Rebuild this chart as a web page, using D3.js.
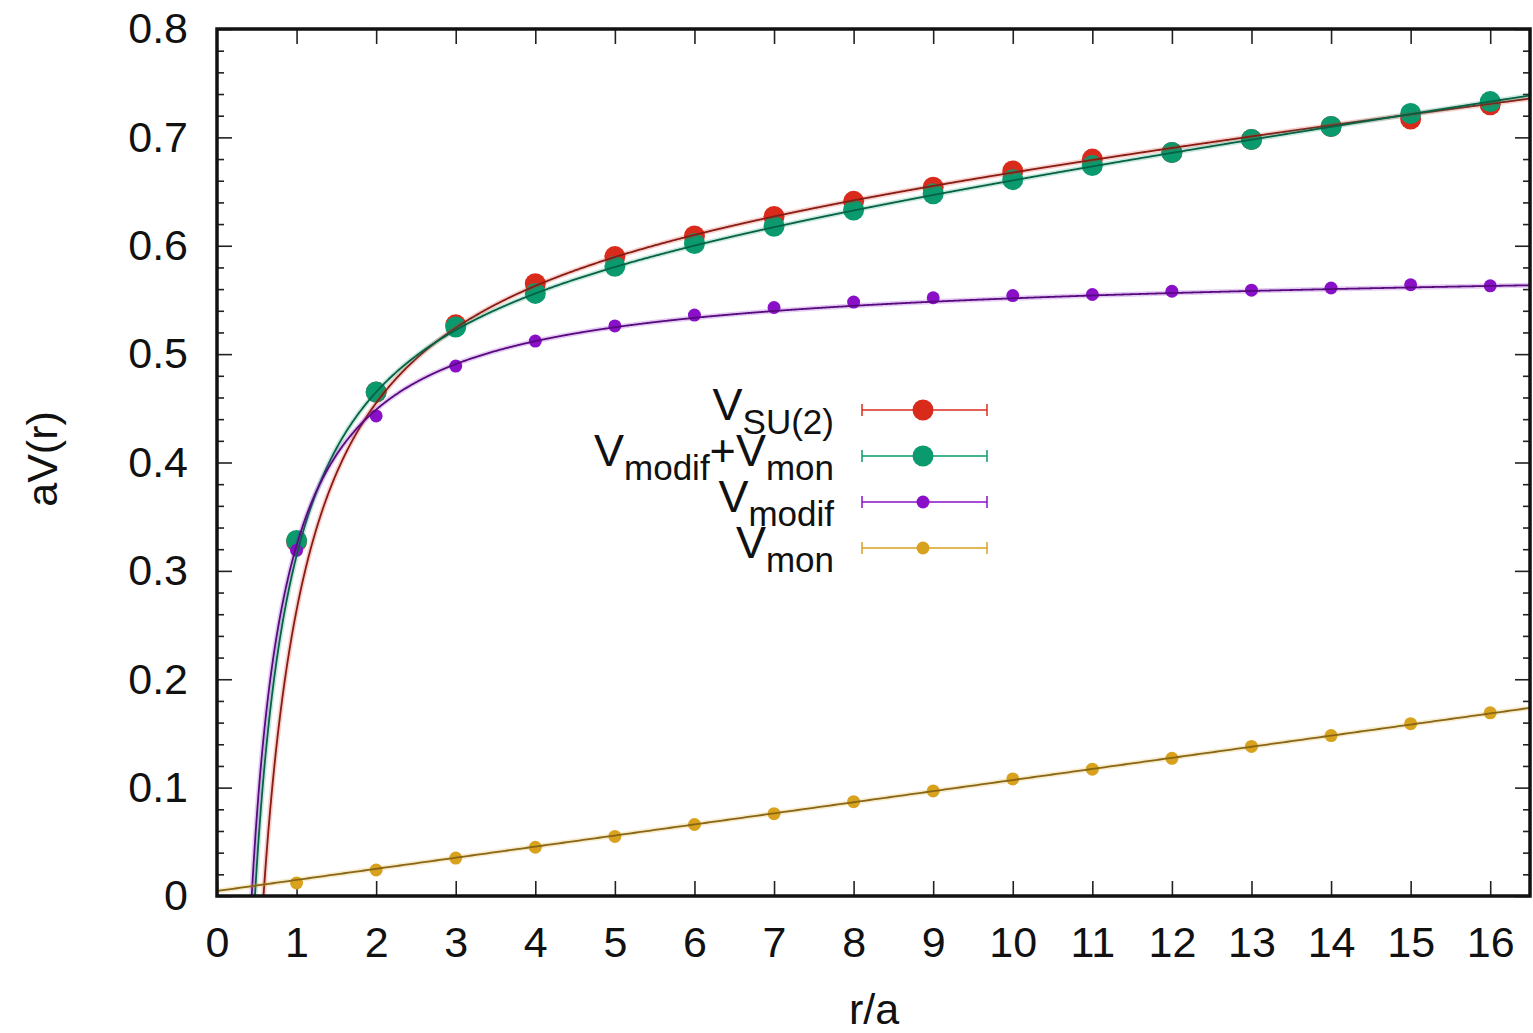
<!DOCTYPE html>
<html>
<head>
<meta charset="utf-8">
<script src="https://cdn.jsdelivr.net/npm/d3@7"></script>
<style>
  html, body { margin: 0; padding: 0; background: #fff; }
  svg { display: block; }
  text { font-family: "Liberation Sans", Arial, Helvetica, sans-serif; fill: #111; }
</style>
</head>
<body>
<svg id="chart" width="1533" height="1033"></svg>
<script>
// Separations r/a at which the potentials were measured
const radii = [1, 2, 3, 4, 5, 6, 7, 8, 9, 10, 11, 12, 13, 14, 15, 16];

// Static potentials aV(r)
const vSU2      = [0.327, 0.465, 0.527, 0.565, 0.590, 0.609, 0.627, 0.641, 0.654, 0.669, 0.680, 0.686, 0.698, 0.710, 0.717, 0.730];
const vModifMon = [0.328, 0.465, 0.525, 0.556, 0.581, 0.602, 0.618, 0.633, 0.648, 0.661, 0.674, 0.686, 0.698, 0.710, 0.722, 0.733];
const vModif    = [0.319, 0.443, 0.489, 0.512, 0.526, 0.536, 0.543, 0.548, 0.552, 0.554, 0.555, 0.558, 0.559, 0.561, 0.564, 0.563];
const vMon      = [0.012, 0.024, 0.035, 0.045, 0.055, 0.066, 0.076, 0.087, 0.097, 0.108, 0.117, 0.127, 0.138, 0.148, 0.159, 0.169];

// Cornell fit V(r) = c + sigma*r - alpha/r, one entry per series
const fitC     = [0.6212, 0.5848, 0.5731, 0.0046];
const fitSigma = [0.00829, 0.01036, 0.00034, 0.01024];
const fitAlpha = [0.3657, 0.2811, 0.2500, 0.0];

// Tick labels
const xTicks = [0, 1, 2, 3, 4, 5, 6, 7, 8, 9, 10, 11, 12, 13, 14, 15, 16];
const yTicks = [0, 0.1, 0.2, 0.3, 0.4, 0.5, 0.6, 0.7, 0.8];

const seriesValues = [vSU2, vModifMon, vModif, vMon];
const seriesColors = ["#d92b1c", "#0a9a6e", "#8a10c8", "#d9a21e"];
const pointRadius  = [10.5, 10.5, 6.5, 6.5];

const svg = d3.select("#chart");
const plotL = 217, plotR = 1530, plotT = 29, plotB = 896;

const x = d3.scaleLinear().domain([0, 16.5]).range([plotL, plotR]);
const y = d3.scaleLinear().domain([0, 0.8]).range([plotB, plotT]);

svg.append("defs").append("clipPath").attr("id", "plotClip")
  .append("rect").attr("x", plotL).attr("y", plotT)
  .attr("width", plotR - plotL).attr("height", plotB - plotT);

// Axes with inward ticks on all four sides
const fmtY = d => d === 0 ? "0" : d3.format(".1f")(d);
const axisFont = "43px";

function styleAxis(g) {
  g.select(".domain").remove();
  g.selectAll(".tick line").attr("stroke", "#222").attr("stroke-width", 1.6);
}

const yMinor = d3.range(0, 0.8001, 0.02).filter(v => Math.abs(v * 10 - Math.round(v * 10)) > 1e-6);

// left axis
svg.append("g").attr("transform", `translate(${plotL},0)`)
  .call(d3.axisLeft(y).tickValues(yTicks).tickFormat(fmtY).tickSizeInner(-15).tickSizeOuter(0).tickPadding(29))
  .call(styleAxis)
  .call(g => g.selectAll(".tick text").attr("font-size", axisFont).attr("fill", "#111"));
svg.append("g").attr("transform", `translate(${plotL},0)`)
  .call(d3.axisLeft(y).tickValues(yMinor).tickFormat("").tickSizeInner(-7).tickSizeOuter(0))
  .call(styleAxis);

// right axis (mirror ticks)
svg.append("g").attr("transform", `translate(${plotR},0)`)
  .call(d3.axisRight(y).tickValues(yTicks).tickFormat("").tickSizeInner(-15).tickSizeOuter(0))
  .call(styleAxis);
svg.append("g").attr("transform", `translate(${plotR},0)`)
  .call(d3.axisRight(y).tickValues(yMinor).tickFormat("").tickSizeInner(-7).tickSizeOuter(0))
  .call(styleAxis);

// bottom axis
svg.append("g").attr("transform", `translate(0,${plotB})`)
  .call(d3.axisBottom(x).tickValues(xTicks).tickFormat(d3.format("d")).tickSizeInner(-15).tickSizeOuter(0).tickPadding(30))
  .call(styleAxis)
  .call(g => g.selectAll(".tick text").attr("font-size", axisFont).attr("fill", "#111"));

// top axis (mirror ticks)
svg.append("g").attr("transform", `translate(0,${plotT})`)
  .call(d3.axisTop(x).tickValues(xTicks.filter(d => d > 0)).tickFormat("").tickSizeInner(-15).tickSizeOuter(0))
  .call(styleAxis);

// Axis titles
svg.append("text").attr("x", 874).attr("y", 1024)
  .attr("text-anchor", "middle").attr("font-size", axisFont).text("r/a");
svg.append("text").attr("transform", `translate(57,459) rotate(-90)`)
  .attr("text-anchor", "middle").attr("font-size", axisFont).text("aV(r)");

// Data points
const plot = svg.append("g").attr("clip-path", "url(#plotClip)");
seriesValues.forEach((vals, i) => {
  plot.append("g").selectAll("circle")
    .data(radii.map((r, k) => ({ r, v: vals[k] })))
    .join("circle")
    .attr("cx", d => x(d.r))
    .attr("cy", d => y(d.v))
    .attr("r", pointRadius[i])
    .attr("fill", seriesColors[i]);
});

// Fit curves
const fitLine = d3.line().x(d => x(d[0])).y(d => y(d[1]));
const rGrid = d3.range(0.2, 16.51, 0.01);
const rGridFull = d3.range(0, 16.51, 0.05);
seriesValues.forEach((vals, i) => {
  const grid = fitAlpha[i] > 0 ? rGrid : rGridFull;
  const pts = grid.map(r => [r, fitC[i] + fitSigma[i] * r - (fitAlpha[i] > 0 ? fitAlpha[i] / r : 0)])
    .filter(p => p[1] > -0.05);
  const base = d3.color(seriesColors[i]);
  plot.append("path").datum(pts).attr("d", fitLine)
    .attr("fill", "none").attr("stroke", base.formatHex())
    .attr("stroke-opacity", 0.22).attr("stroke-width", 5);
  plot.append("path").datum(pts).attr("d", fitLine)
    .attr("fill", "none").attr("stroke", base.darker(1.3).formatHex())
    .attr("stroke-width", 1.8);
});

// Frame
svg.append("rect").attr("x", plotL).attr("y", plotT)
  .attr("width", plotR - plotL).attr("height", plotB - plotT)
  .attr("fill", "none").attr("stroke", "#111").attr("stroke-width", 3.5);

// Legend
const legendRows = [
  [["V", 0], ["SU(2)", 1]],
  [["V", 0], ["modif", 1], ["+V", 0], ["mon", 1]],
  [["V", 0], ["modif", 1]],
  [["V", 0], ["mon", 1]]
];
const legendY0 = 410, legendDY = 46;
const legend = svg.append("g");
legendRows.forEach((parts, i) => {
  const cy = legendY0 + i * legendDY;
  const t = legend.append("text").attr("x", 834).attr("y", cy + 10)
    .attr("text-anchor", "end");
  let level = 0;
  parts.forEach(([s, sub]) => {
    const shift = (sub ? 14 : 0) - level;
    level = sub ? 14 : 0;
    t.append("tspan").attr("dy", shift)
      .attr("font-size", sub ? "35px" : "45px").text(s);
  });
  const g = legend.append("g").attr("stroke", seriesColors[i]).attr("stroke-width", 1.5);
  g.append("line").attr("x1", 862).attr("x2", 987).attr("y1", cy).attr("y2", cy);
  g.append("line").attr("x1", 862).attr("x2", 862).attr("y1", cy - 6).attr("y2", cy + 6);
  g.append("line").attr("x1", 987).attr("x2", 987).attr("y1", cy - 6).attr("y2", cy + 6);
  legend.append("circle").attr("cx", 923).attr("cy", cy)
    .attr("r", pointRadius[i]).attr("fill", seriesColors[i]);
});
</script>
</body>
</html>
